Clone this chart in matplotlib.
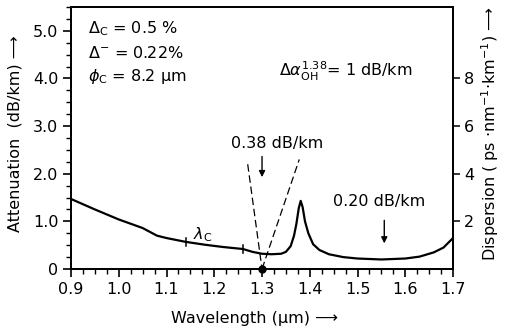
import matplotlib.pyplot as plt
from matplotlib.ticker import MultipleLocator

# attenuation curve
wavelength = [0.90, 0.95, 1.00, 1.05, 1.08, 1.10, 1.14, 1.18, 1.22, 1.26, 1.28, 1.30,
              1.32, 1.34, 1.35, 1.36, 1.367, 1.372, 1.377, 1.381, 1.385, 1.390,
              1.397, 1.407, 1.42, 1.44, 1.47, 1.50, 1.55, 1.60, 1.63, 1.66, 1.68, 1.70]
attenuation = [1.47, 1.25, 1.04, 0.86, 0.70, 0.65, 0.57, 0.51, 0.46, 0.42, 0.36, 0.32,
               0.31, 0.32, 0.36, 0.48, 0.70, 0.95, 1.28, 1.43, 1.30, 1.00,
               0.75, 0.52, 0.40, 0.31, 0.25, 0.22, 0.20, 0.22, 0.26, 0.35, 0.45, 0.65]

cutoff_marks = [1.14, 1.26]          # lambda_c range ticks on the curve
zero_disp = 1.30                     # zero dispersion point
tangent_left = (1.270, 2.20)
tangent_right = (1.378, 2.30)

xticks = [0.9, 1.0, 1.1, 1.2, 1.3, 1.4, 1.5, 1.6, 1.7]
yticks = [0, 1, 2, 3, 4, 5]
yticklabels = ["0", "1.0", "2.0", "3.0", "4.0", "5.0"]
disp_ticks = [2, 4, 6, 8]

plt.rcParams['font.family'] = ['DejaVu Sans']
fs = 11.5

fig = plt.figure(figsize=(5.08, 3.34), dpi=100)
ax = fig.add_axes([0.1398, 0.1946, 0.752, 0.7844])

ax.plot(wavelength, attenuation, color='black', lw=1.6)

# lambda_c marks
for xm in cutoff_marks:
    i = min(range(len(wavelength)), key=lambda k: abs(wavelength[k] - xm))
    ym = attenuation[i]
    ax.plot([xm, xm], [ym - 0.08, ym + 0.08], color='black', lw=1.1)
ax.text(1.155, 0.72, r"$\lambda_\mathrm{C}$", fontsize=fs, ha='left', va='center')

# tangent lines (dashed) and zero-dispersion point
ax.plot([tangent_left[0], zero_disp], [tangent_left[1], 0], color='black', lw=0.9,
        ls=(0, (6, 3)))
ax.plot([zero_disp, tangent_right[0]], [0, tangent_right[1]], color='black', lw=0.9,
        ls=(0, (6, 3)))
ax.plot([zero_disp], [0], 'o', color='black', ms=5, clip_on=False, zorder=5)

# annotations
ax.annotate("", xy=(1.30, 1.87), xytext=(1.30, 2.42),
            arrowprops=dict(arrowstyle='-|>', color='black', lw=1.0,
                            mutation_scale=9))
ax.text(1.331, 2.64, "0.38 dB/km", fontsize=fs, ha='center', va='center')
ax.annotate("", xy=(1.556, 0.48), xytext=(1.556, 1.08),
            arrowprops=dict(arrowstyle='-|>', color='black', lw=1.0,
                            mutation_scale=9))
ax.text(1.545, 1.41, "0.20 dB/km", fontsize=fs, ha='center', va='center')

ax.text(0.935, 5.05, r"$\Delta_\mathrm{C}$ = 0.5 %", fontsize=fs, va='center')
ax.text(0.935, 4.53, r"$\Delta^{-}$ = 0.22%", fontsize=fs, va='center')
ax.text(0.935, 4.05, r"$\phi_\mathrm{C}$ = 8.2 $\mathrm{\mu}$m", fontsize=fs, va='center')
ax.text(1.335, 4.15, r"$\Delta\alpha_\mathrm{OH}^{1.38}$= 1 dB/km", fontsize=fs,
        va='center')

ax.set_xlim(0.9, 1.7)
ax.set_ylim(0, 5.5)
ax.set_xticks(xticks)
ax.set_xticklabels([f"{v:.1f}" for v in xticks], fontsize=fs)
ax.set_yticks(yticks)
ax.set_yticklabels(yticklabels, fontsize=fs)
ax.xaxis.set_minor_locator(MultipleLocator(0.025))
ax.yaxis.set_minor_locator(MultipleLocator(0.25))
ax.tick_params(which='major', direction='out', length=6, width=1.2, pad=3)
ax.tick_params(which='minor', direction='out', length=3.5, width=1.0)
ax.tick_params(axis='y', which='both', right=False)
for s in ax.spines.values():
    s.set_linewidth(1.3)

ax2 = ax.twinx()
ax2.set_ylim(0, 11)
ax2.set_yticks(disp_ticks)
ax2.set_yticklabels([str(v) for v in disp_ticks], fontsize=fs)
ax2.tick_params(direction='out', length=5, width=1.1, pad=3)
for s in ax2.spines.values():
    s.set_linewidth(1.3)

fig.text(0.502, 0.045, "Wavelength (μm) ⟶", fontsize=fs, ha='center', va='center')
fig.text(0.03, 0.60, "Attenuation  (dB/km) ⟶", fontsize=fs, rotation=90,
         ha='center', va='center')
fig.text(0.965, 0.60, "Dispersion ( ps ·nm$^{-1}$·km$^{-1}$) ⟶", fontsize=fs,
         rotation=90, ha='center', va='center')

fig.savefig("out.png", dpi=100)
